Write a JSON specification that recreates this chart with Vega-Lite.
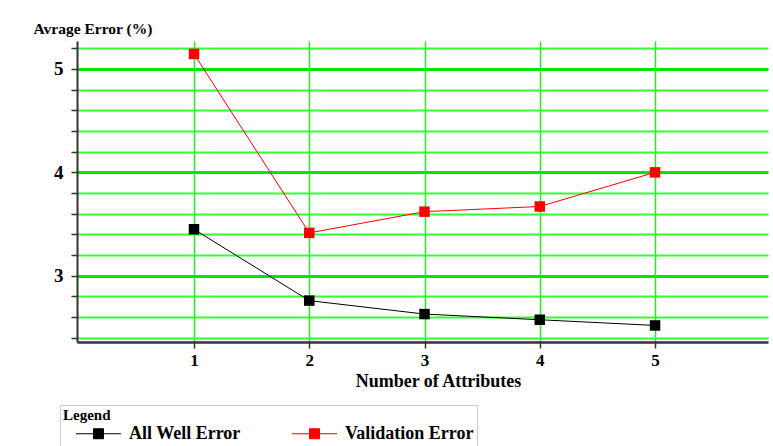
{
  "$schema": "https://vega.github.io/schema/vega-lite/v6.json",
  "autosize": {"type": "none"},
  "width": 691,
  "height": 301,
  "padding": {"left": 77, "top": 41, "right": 5, "bottom": 104},
  "background": "white",
  "config": {
    "view": {"stroke": null},
    "font": "Liberation Serif, Times New Roman, serif"
  },
  "data": {
    "values": [
      {"attributes": 1, "error": 3.45, "series": "All Well Error"},
      {"attributes": 2, "error": 2.76, "series": "All Well Error"},
      {"attributes": 3, "error": 2.63, "series": "All Well Error"},
      {"attributes": 4, "error": 2.575, "series": "All Well Error"},
      {"attributes": 5, "error": 2.52, "series": "All Well Error"},
      {"attributes": 1, "error": 5.145, "series": "Validation Error"},
      {"attributes": 2, "error": 3.415, "series": "Validation Error"},
      {"attributes": 3, "error": 3.62, "series": "Validation Error"},
      {"attributes": 4, "error": 3.67, "series": "Validation Error"},
      {"attributes": 5, "error": 4.0, "series": "Validation Error"}
    ]
  },
  "encoding": {
    "x": {
      "field": "attributes",
      "type": "quantitative",
      "scale": {"domain": [-0.015, 5.98], "nice": false, "zero": false},
      "axis": {
        "values": [1, 2, 3, 4, 5],
        "format": "d",
        "title": "Number of Attributes",
        "titleFont": "Liberation Serif, Times New Roman, serif",
        "titleFontWeight": "bold",
        "titleFontSize": 18,
        "titleColor": "#000",
        "titleX": 361,
        "titleY": 30,
        "titleBaseline": "top",
        "titleAlign": "center",
        "labelFont": "Liberation Serif, Times New Roman, serif",
        "labelFontWeight": "bold",
        "labelFontSize": 17,
        "labelColor": "#000",
        "labelPadding": 4,
        "tickSize": 6,
        "tickColor": "#333",
        "tickWidth": 1.5,
        "domainColor": "#333",
        "domainWidth": 2.5,
        "grid": true,
        "gridColor": "#22ee22",
        "gridWidth": 1.5,
        "gridOpacity": 1
      }
    },
    "y": {
      "field": "error",
      "type": "quantitative",
      "scale": {"domain": [2.36, 5.27], "nice": false, "zero": false},
      "axis": {
        "values": [2.4, 2.6, 2.8, 3, 3.2, 3.4, 3.6, 3.8, 4, 4.2, 4.4, 4.6, 4.8, 5, 5.2],
        "labelExpr": "datum.value % 1 === 0 ? format(datum.value, 'd') : ''",
        "title": "Avrage Error (%)",
        "titleAngle": 0,
        "titleAlign": "left",
        "titleBaseline": "alphabetic",
        "titleX": -44,
        "titleY": -8,
        "titleFont": "Liberation Serif, Times New Roman, serif",
        "titleFontWeight": "bold",
        "titleFontSize": 15.5,
        "titleColor": "#000",
        "labelFont": "Liberation Serif, Times New Roman, serif",
        "labelFontWeight": "bold",
        "labelFontSize": 19,
        "labelColor": "#000",
        "labelPadding": 8,
        "tickSize": 6,
        "tickColor": "#333",
        "tickWidth": 1.5,
        "domainColor": "#333",
        "domainWidth": 2,
        "grid": true,
        "gridColor": {"condition": {"test": "datum.value % 1 === 0", "value": "#00e600"}, "value": "#33ff33"},
        "gridWidth": {"condition": {"test": "datum.value % 1 === 0", "value": 3}, "value": 2},
        "gridOpacity": 1
      }
    },
    "color": {
      "field": "series",
      "type": "nominal",
      "scale": {"domain": ["All Well Error", "Validation Error"], "range": ["#000000", "#ff0000"]},
      "legend": {
        "orient": "none",
        "legendX": -17,
        "legendY": 364,
        "direction": "horizontal",
        "title": "Legend",
        "titleFont": "Liberation Serif, Times New Roman, serif",
        "titleFontWeight": "bold",
        "titleFontSize": 15,
        "titleColor": "#000",
        "titlePadding": 0,
        "labelFont": "Liberation Serif, Times New Roman, serif",
        "labelFontWeight": "bold",
        "labelFontSize": 18,
        "labelColor": "#000",
        "labelOffset": 20,
        "columnPadding": 38,
        "padding": 3,
        "strokeColor": "#999",
        "symbolType": "M-2.25,0H2.25M-0.5,-0.5H0.5V0.5H-0.5Z",
        "symbolSize": 400,
        "symbolStrokeWidth": 1,
        "symbolOffset": 25,
        "encode": {
          "legend": {
            "update": {
              "strokeDash": {"value": [1, 1]}
            }
          },
          "symbols": {
            "update": {
              "fill": {"scale": "color", "field": "value"},
              "stroke": {"scale": "color", "field": "value"},
              "opacity": {"value": 1}
            }
          }
        }
      }
    }
  },
  "layer": [
    {"mark": {"type": "line", "strokeWidth": 1}},
    {"mark": {"type": "point", "shape": "square", "filled": true, "size": 110, "opacity": 1}}
  ]
}
